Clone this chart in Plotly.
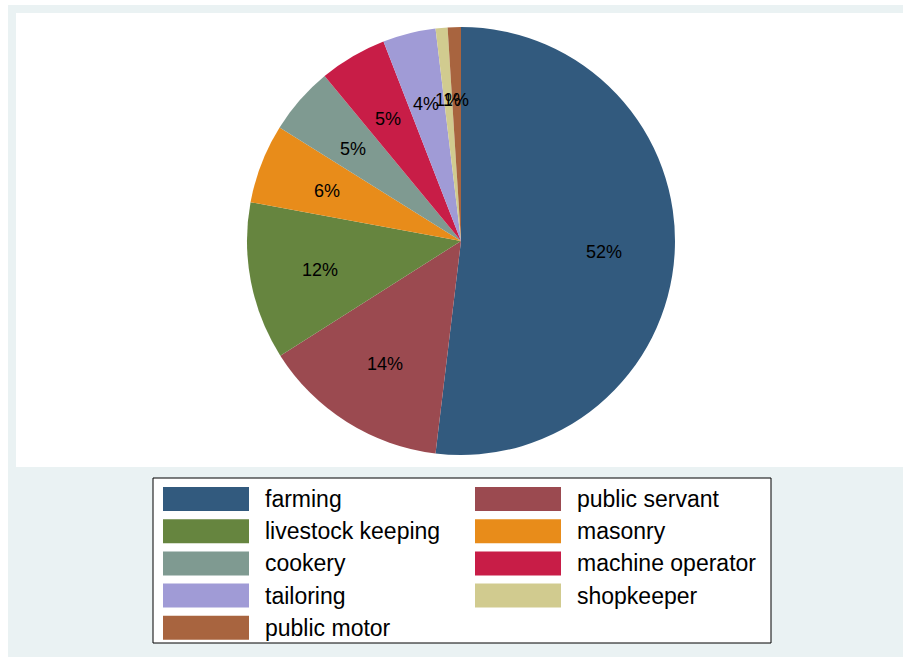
import math
import plotly.graph_objects as go

# ---- data ----
labels = ["farming", "public servant", "livestock keeping", "masonry", "cookery",
          "machine operator", "tailoring", "shopkeeper", "public motor"]
values = [51.9, 14.1, 11.9, 6.0, 5.1, 5.1, 4.0, 0.9, 1.0]
colors = ["#325A7E", "#9B4A50", "#66853F", "#E88C1A", "#7F9A91",
          "#C81D47", "#A09BD6", "#D1CB8F", "#A8643F"]
# legend order (row-major, two columns)
legend_order = ["farming", "public servant", "livestock keeping", "masonry", "cookery",
                "machine operator", "tailoring", "shopkeeper", "public motor"]

W, H = 903, 659
FONT = "Liberation Sans, Arial, sans-serif"

def px(x):
    return x / W

def py(y):
    return 1 - y / H

# pie geometry (pixels)
cx, cy, r = 461, 241, 214

fig = go.Figure()
fig.add_trace(go.Pie(
    labels=labels, values=values, sort=False, direction="clockwise", rotation=0,
    marker=dict(colors=colors, line=dict(width=0)),
    textinfo="none", hoverinfo="label+percent", showlegend=False,
    domain=dict(x=[px(cx - r), px(cx + r)], y=[py(cy + r), py(cy - r)]),
))

shapes = [
    dict(type="rect", xref="paper", yref="paper", x0=px(8), x1=1, y0=py(657), y1=py(5),
         fillcolor="#EAF2F3", line=dict(width=0), layer="below"),
    dict(type="rect", xref="paper", yref="paper", x0=px(16), x1=1, y0=py(467), y1=py(13),
         fillcolor="white", line=dict(width=0), layer="below"),
]
annotations = []

# slice percentage labels at 0.67 radius
total = sum(values)
cum = 0.0
for v in values:
    mid = (cum + v / 2) / total * 2 * math.pi
    cum += v
    d = 0.67 * r
    lx = cx + d * math.sin(mid)
    ly = cy - d * math.cos(mid) + 2
    annotations.append(dict(
        x=px(lx), y=py(ly), xref="paper", yref="paper", showarrow=False,
        text=f"{round(v / total * 100)}%", xanchor="center", yanchor="middle",
        font=dict(family=FONT, size=18, color="black")))

# custom legend
shapes.append(dict(type="rect", xref="paper", yref="paper", x0=px(153), x1=px(771),
                   y0=py(643), y1=py(478), fillcolor="white",
                   line=dict(color="black", width=1), layer="below"))
col_sw = [163, 475]
sw_w, sw_h = 86, 24
row_y0, row_dy = 499, 32.2
for i, name in enumerate(legend_order):
    col, row = i % 2, i // 2
    yc = row_y0 + row * row_dy
    x0 = col_sw[col]
    c = colors[labels.index(name)]
    shapes.append(dict(type="rect", xref="paper", yref="paper", x0=px(x0), x1=px(x0 + sw_w),
                       y0=py(yc + sw_h / 2), y1=py(yc - sw_h / 2), fillcolor=c,
                       line=dict(width=0)))
    annotations.append(dict(x=px(x0 + sw_w + 14), y=py(yc), xref="paper", yref="paper",
                            showarrow=False, text=name, xanchor="left", yanchor="middle",
                            font=dict(family=FONT, size=23, color="black")))

fig.update_layout(
    width=W, height=H, margin=dict(l=0, r=0, t=0, b=0),
    paper_bgcolor="white", plot_bgcolor="white",
    shapes=shapes, annotations=annotations, showlegend=False,
)
fig.write_html(
    "out.html",
    config={"displayModeBar": False},
    post_script="document.body.style.margin='0';document.body.style.overflow='hidden';",
)
